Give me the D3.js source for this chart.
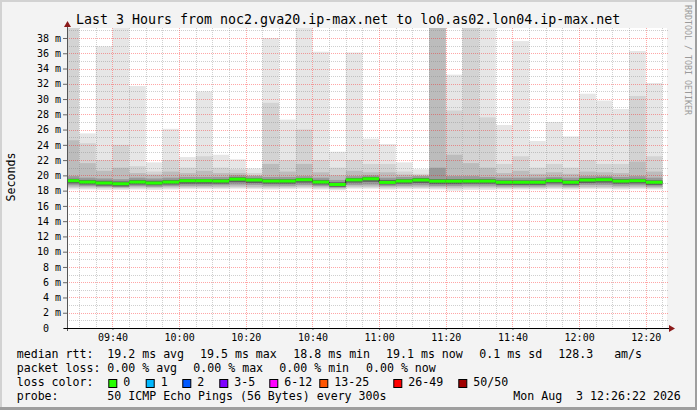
<!DOCTYPE html>
<html><head><meta charset="utf-8">
<script src="https://cdn.jsdelivr.net/npm/d3@7"></script>
<style>
body{margin:0;background:#f3f3f3}
svg{display:block}
text{font-family:"DejaVu Sans Mono",monospace;fill:#000}
</style>
</head><body>
<svg id="c" width="697" height="410"></svg>
<script>
// ---- data ----
const binEnds = ["09:30","09:35","09:40","09:45","09:50","09:55","10:00","10:05","10:10","10:15","10:20","10:25",
  "10:30","10:35","10:40","10:45","10:50","10:55","11:00","11:05","11:10","11:15","11:20","11:25",
  "11:30","11:35","11:40","11:45","11:50","11:55","12:00","12:05","12:10","12:15","12:20","12:25"];
const median = [19.30,19.13,19.00,18.90,19.13,19.00,19.13,19.30,19.30,19.26,19.50,19.39,
  19.26,19.26,19.43,19.13,18.80,19.41,19.55,19.08,19.26,19.39,19.24,19.24,
  19.25,19.25,19.10,19.10,19.10,19.30,19.10,19.39,19.43,19.25,19.30,19.10];
const pingMax = [40,25.5,36.9,40,31.7,21.7,26.1,22.4,31.0,22.7,22.1,20.9,
  38.0,27.3,40,36.2,23.1,36.1,24.8,24.1,21.7,20.8,40,33.2,
  40,40,26.6,37.6,24.5,27.0,25.1,30.7,29.8,28.7,36.3,32.1];
const up2 = [40,24.2,22.0,24.0,21.2,20.5,22.0,21.0,22.5,21.0,20.8,20.3,
  29.5,22.0,26.0,22.0,21.0,22.0,21.5,21.5,20.5,20.2,40,28.5,
  40,27.6,21.5,22.5,21.0,21.5,21.0,22.0,21.5,21.5,30.4,22.5];
const up3 = [24.6,21.6,20.6,21.0,20.3,20.1,20.5,20.3,20.6,20.3,20.3,20.0,
  21.5,20.5,21.5,20.4,20.0,20.6,20.4,20.4,20.1,20.0,40,22.7,
  21.6,21.0,20.3,20.6,20.2,20.4,20.2,20.5,20.4,20.3,21.8,20.5];
const up4 = [19.9,19.7,19.6,19.5,19.7,19.6,19.7,19.8,19.8,19.8,20.0,19.9,
  19.8,19.8,19.9,19.7,19.4,19.9,20.0,19.7,19.8,19.9,21.0,19.9,
  19.9,19.8,19.7,19.7,19.7,19.8,19.7,19.9,19.9,19.8,19.9,19.7];
const up5 = [19.55,19.4,19.3,19.2,19.4,19.3,19.4,19.5,19.5,19.5,19.75,19.6,
  19.5,19.5,19.65,19.4,19.1,19.65,19.8,19.4,19.5,19.65,19.5,19.5,
  19.5,19.5,19.35,19.35,19.35,19.55,19.35,19.65,19.7,19.5,19.55,19.35];
const dn5 = [18.95,18.8,18.65,18.55,18.8,18.7,18.8,18.9,18.9,18.9,19.1,19.0,
  18.9,18.9,19.05,18.8,18.5,19.05,19.15,18.8,18.9,19.0,18.85,18.85,
  18.9,18.9,18.75,18.75,18.75,18.95,18.75,19.0,19.05,18.9,18.95,18.75];
const dn4 = [18.7,18.6,18.5,18.45,18.6,18.5,18.6,18.65,18.65,18.7,18.8,18.75,
  18.65,18.65,18.75,18.6,18.4,18.75,18.8,18.6,18.65,18.7,18.6,18.6,
  18.65,18.65,18.55,18.55,18.55,18.7,18.55,18.75,18.75,18.65,18.7,18.55];
const dn3 = [18.5,18.45,18.4,18.35,18.45,18.4,18.45,18.5,18.5,18.5,18.55,18.5,
  18.45,18.5,18.55,18.45,18.3,18.55,18.55,18.45,18.5,18.5,18.45,18.4,
  18.45,18.45,18.4,18.4,18.4,18.5,18.4,18.5,18.5,18.45,18.5,18.4];
const dn2 = [18.35,18.3,18.3,18.25,18.3,18.3,18.3,18.35,18.35,18.35,18.4,18.35,
  18.3,18.35,18.4,18.3,18.2,18.4,18.4,18.3,18.35,18.35,18.3,18.25,
  18.3,18.3,18.3,18.3,18.3,18.35,18.3,18.35,18.35,18.3,18.35,18.3];
const pingMin = [18.15,18.15,18.1,18.1,18.15,18.1,18.15,18.2,18.2,18.2,18.25,18.2,
  18.15,18.2,18.25,18.15,18.05,18.25,18.25,18.15,18.2,18.2,18.15,18.0,
  18.1,18.1,18.15,18.15,18.15,18.2,18.15,18.2,18.2,18.15,18.2,18.15];
const yTickValues = [0,2,4,6,8,10,12,14,16,18,20,22,24,26,28,30,32,34,36,38];
const xTickLabels = ["09:40","10:00","10:20","10:40","11:00","11:20","11:40","12:00","12:20"];
const lossLabels = ["0","1","2","3-5","6-12","13-25","26-49","50/50"];
const lossColors = ["#26ff00","#00b8ff","#0059ff","#7e00ff","#ff00ff","#ff5500","#ff0000","#a00000"];
const legendRtt = ["19.2 ms avg","19.5 ms max","18.8 ms min","19.1 ms now","0.1 ms sd","128.3   am/s"];
const legendLoss = ["0.00 % avg","0.00 % max","0.00 % min","0.00 % now"];

// ---- layout ----
const svg = d3.select("#c");
const W = 697, H = 410;
const L = 67, R = 667, T = 28, B = 328;
const day = "2026-08-03T";
const parse = s => new Date(day + s + ":00");
const t0 = new Date(day + "09:26:22"), t1 = new Date(day + "12:26:22");
const x = d3.scaleTime().domain([t0, t1]).range([L, R]);
const y = d3.scaleLinear().domain([0, 39.31]).range([B, T]);

svg.append("rect").attr("width", W).attr("height", H).attr("fill", "#f3f3f3");
svg.append("rect").attr("x",0).attr("y",0).attr("width",2).attr("height",H).attr("fill","#d2d2d2");
svg.append("rect").attr("x",0).attr("y",0).attr("width",W).attr("height",2).attr("fill","#d2d2d2");
svg.append("rect").attr("x",W-2).attr("y",0).attr("width",2).attr("height",H).attr("fill","#9e9e9e");
svg.append("rect").attr("x",0).attr("y",H-3).attr("width",W).attr("height",3).attr("fill","#9e9e9e");

svg.append("rect").attr("x", L).attr("y", T).attr("width", R - L).attr("height", B - T).attr("fill", "#fff");
svg.append("clipPath").attr("id","clip").append("rect").attr("x",L).attr("y",T).attr("width",R-L).attr("height",B-T);

const bins = binEnds.map((e, i) => {
  const end = parse(e);
  return {s: new Date(end - 300000), e: end, i};
});

// smoke bands
const bands = [
  [pingMin, pingMax, "#e6e6e6"],
  [dn2, up2, "#d3d3d3"],
  [dn3, up3, "#bcbcbc"],
  [dn4, up4, "#9a9a9a"],
  [dn5, up5, "#606060"]
];
const gS = svg.append("g").attr("clip-path", "url(#clip)");
bands.forEach(([lo, hi, col]) => {
  gS.append("g").selectAll("rect").data(bins).join("rect")
    .attr("x", d => x(d.s)).attr("width", d => x(d.e) - x(d.s))
    .attr("y", d => y(hi[d.i])).attr("height", d => y(lo[d.i]) - y(hi[d.i]))
    .attr("fill", col);
});

// grid
const gG = svg.append("g").attr("shape-rendering","crispEdges");
const yMinor = d3.range(1, 40);
gG.selectAll(".hy").data(yMinor).join("line")
  .attr("x1", L).attr("x2", R + 1).attr("y1", d => Math.round(y(d)) + 0.5).attr("y2", d => Math.round(y(d)) + 0.5)
  .attr("stroke", d => d % 2 === 0 ? "rgba(255,0,0,0.35)" : "rgba(130,130,130,0.38)")
  .attr("stroke-dasharray", "1,1");
const xMinor = d3.timeMinute.every(5).range(parse("09:30"), new Date(t1.getTime() + 1));
gG.selectAll(".vx").data(xMinor).join("line")
  .attr("y1", T).attr("y2", B).attr("x1", d => Math.round(x(d)) + 0.5).attr("x2", d => Math.round(x(d)) + 0.5)
  .attr("stroke", d => d.getMinutes() % 20 === 0 ? "rgba(255,0,0,0.35)" : "rgba(130,130,130,0.38)")
  .attr("stroke-dasharray", "1,1");

// median
const gM = svg.append("g").attr("clip-path", "url(#clip)");
const stepPts = bins.map(d => [x(d.s), y(median[d.i])]);
stepPts.push([x(bins[bins.length-1].e), y(median[bins.length-1])]);
gM.append("path").attr("d", d3.line().curve(d3.curveStepAfter)(stepPts))
  .attr("fill","none").attr("stroke","#202020").attr("stroke-width",1);
gM.selectAll(".med").data(bins).join("line")
  .attr("x1", d => x(d.s)).attr("x2", d => x(d.e))
  .attr("y1", d => y(median[d.i])).attr("y2", d => y(median[d.i]))
  .attr("stroke", lossColors[0]).attr("stroke-width", 3);

// axes
const yAxis = d3.axisLeft(y).tickValues(yTickValues).tickSize(4).tickPadding(2)
  .tickFormat(v => v === 0 ? "0" : v + " m");
const gy = svg.append("g").attr("transform", `translate(${L},0)`).call(yAxis);
gy.select(".domain").remove();
gy.selectAll(".tick line").attr("stroke", "#666");
gy.selectAll("text").attr("font-size", 10).attr("font-family", "DejaVu Sans Mono")
  .attr("dx", v => v === 0 ? -12 : 0);
svg.append("line").attr("x1", L + 0.5).attr("x2", L + 0.5).attr("y1", T - 2).attr("y2", B + 3).attr("stroke", "#555");

const xAxis = d3.axisBottom(x).tickValues(xTickLabels.map(parse)).tickSize(2).tickPadding(4)
  .tickFormat(d3.timeFormat("%H:%M"));
const gx = svg.append("g").attr("transform", `translate(0,${B})`).call(xAxis);
gx.select(".domain").remove();
gx.selectAll(".tick line").attr("stroke", "#666");
gx.selectAll("text").attr("font-size", 10).attr("font-family", "DejaVu Sans Mono");
svg.append("line").attr("x1", L - 3).attr("x2", R + 3).attr("y1", B + 0.5).attr("y2", B + 0.5).attr("stroke", "#000");
svg.append("path").attr("d", `M${L-3},${T-1} L${L+0.5},${T-7} L${L+4},${T-1} Z`).attr("fill", "#8b1a1a");
svg.append("path").attr("d", `M${R+2},${B-3} L${R+8},${B+0.5} L${R+2},${B+4} Z`).attr("fill", "#8b1a1a");

// texts
svg.append("text").attr("x", 76).attr("y", 24).attr("font-size", 13.3)
  .text("Last 3 Hours from noc2.gva20.ip-max.net to lo0.as02.lon04.ip-max.net");
svg.append("text").attr("transform", "translate(15,177) rotate(-90)").attr("text-anchor", "middle")
  .attr("font-size", 11.6).text("Seconds");
svg.append("text").attr("transform", "translate(684.5,5) rotate(90)").attr("font-size", 8.3)
  .style("fill", "#9a9a9a").text("RRDTOOL / TOBI OETIKER");

const fs = 11.6;
const row = (yy, items) => items.forEach(([xx, s]) =>
  svg.append("text").attr("x", xx).attr("y", yy).attr("font-size", fs).style("white-space", "pre").text(s));
row(357.5, [[16.7, "median rtt:"]].concat(legendRtt.map((s, i) => [[107.3, 200, 293.3, 386, 479.3, 558.3][i], s])));
row(371.5, [[16.7, "packet loss:"]].concat(legendLoss.map((s, i) => [[107.3, 193.3, 279.3, 366][i], s])));
row(385.5, [[16.7, "loss color:"]]);
const boxX = [108.3, 145.7, 182.3, 219.3, 269.3, 319.3, 393.3, 458.3];
lossLabels.forEach((lab, i) => {
  svg.append("rect").attr("x", boxX[i] + 0.5).attr("y", 379.5).attr("width", 8).attr("height", 8)
    .attr("fill", lossColors[i]).attr("stroke", "#000").attr("stroke-width", 1);
  svg.append("text").attr("x", boxX[i] + 15).attr("y", 385.5).attr("font-size", fs).text(lab);
});
row(399.5, [[16.7, "probe:"], [107.3, "50 ICMP Echo Pings (56 Bytes) every 300s"], [513.3, "Mon Aug  3 12:26:22 2026"]]);
</script>
</body></html>
